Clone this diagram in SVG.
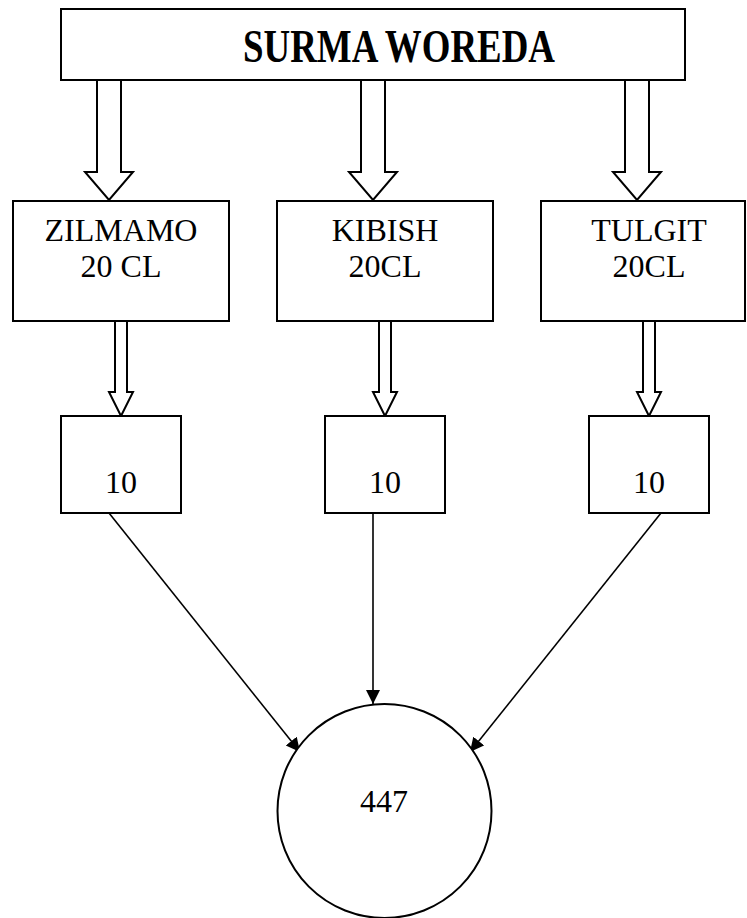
<svg xmlns="http://www.w3.org/2000/svg" width="747" height="918" viewBox="0 0 747 918">
<style>
.box{fill:#fff;stroke:#000;stroke-width:2}
.barrow{fill:#fff;stroke:#000;stroke-width:2;stroke-linejoin:miter}
.t{font-family:"Liberation Serif","Times New Roman",serif;font-size:32px;fill:#000;text-anchor:middle}
.title{font-family:"Liberation Serif","Times New Roman",serif;font-size:47px;font-weight:bold;fill:#000}
.line{stroke:#000;stroke-width:1.6;fill:none}
</style>
<defs>
<marker id="ah" markerUnits="userSpaceOnUse" markerWidth="15" markerHeight="15" refX="14" refY="7" orient="auto">
<path d="M0,0 L14,7 L0,14 z" fill="#000"/>
</marker>
</defs>
<rect width="747" height="918" fill="#fff"/>
<g id="connectors">
<polygon class="barrow" points="97,80 121,80 121,172 133,172 109,200 85,172 97,172"/>
<polygon class="barrow" points="361,80 385,80 385,172 397,172 373,200 349,172 361,172"/>
<polygon class="barrow" points="625,80 649,80 649,172 661,172 637,200 613,172 625,172"/>
<polygon class="barrow" points="115,321 127,321 127,392 133,392 121,416 109,392 115,392"/>
<polygon class="barrow" points="379,321 391,321 391,392 397,392 385,416 373,392 379,392"/>
<polygon class="barrow" points="643,321 655,321 655,392 661,392 649,416 637,392 643,392"/>
<line class="line" x1="109" y1="513" x2="300" y2="752" marker-end="url(#ah)"/>
<line class="line" x1="373" y1="513" x2="373" y2="704" marker-end="url(#ah)"/>
<line class="line" x1="661" y1="513" x2="470" y2="752" marker-end="url(#ah)"/>
</g>
<g id="surma">
<rect class="box" x="61" y="9" width="624" height="71"/>
<text class="title" transform="translate(243,62) scale(0.785,1)">SURMA WOREDA</text>
</g>
<g id="zilmamo">
<rect class="box" x="13" y="201" width="216" height="120"/>
<text class="t" x="121" y="241">ZILMAMO</text>
<text class="t" x="121" y="277">20 CL</text>
</g>
<g id="kibish">
<rect class="box" x="277" y="201" width="216" height="120"/>
<text class="t" x="385" y="241">KIBISH</text>
<text class="t" x="385" y="277">20CL</text>
</g>
<g id="tulgit">
<rect class="box" x="541" y="201" width="204" height="120"/>
<text class="t" x="649" y="241">TULGIT</text>
<text class="t" x="649" y="277">20CL</text>
</g>
<g id="z10">
<rect class="box" x="61" y="416" width="120" height="97"/>
<text class="t" x="121" y="493">10</text>
</g>
<g id="k10">
<rect class="box" x="325" y="416" width="120" height="97"/>
<text class="t" x="385" y="493">10</text>
</g>
<g id="t10">
<rect class="box" x="589" y="416" width="120" height="97"/>
<text class="t" x="649" y="493">10</text>
</g>
<g id="total">
<circle class="box" cx="384.5" cy="811" r="107"/>
<text class="t" x="384" y="812">447</text>
</g>
</svg>
